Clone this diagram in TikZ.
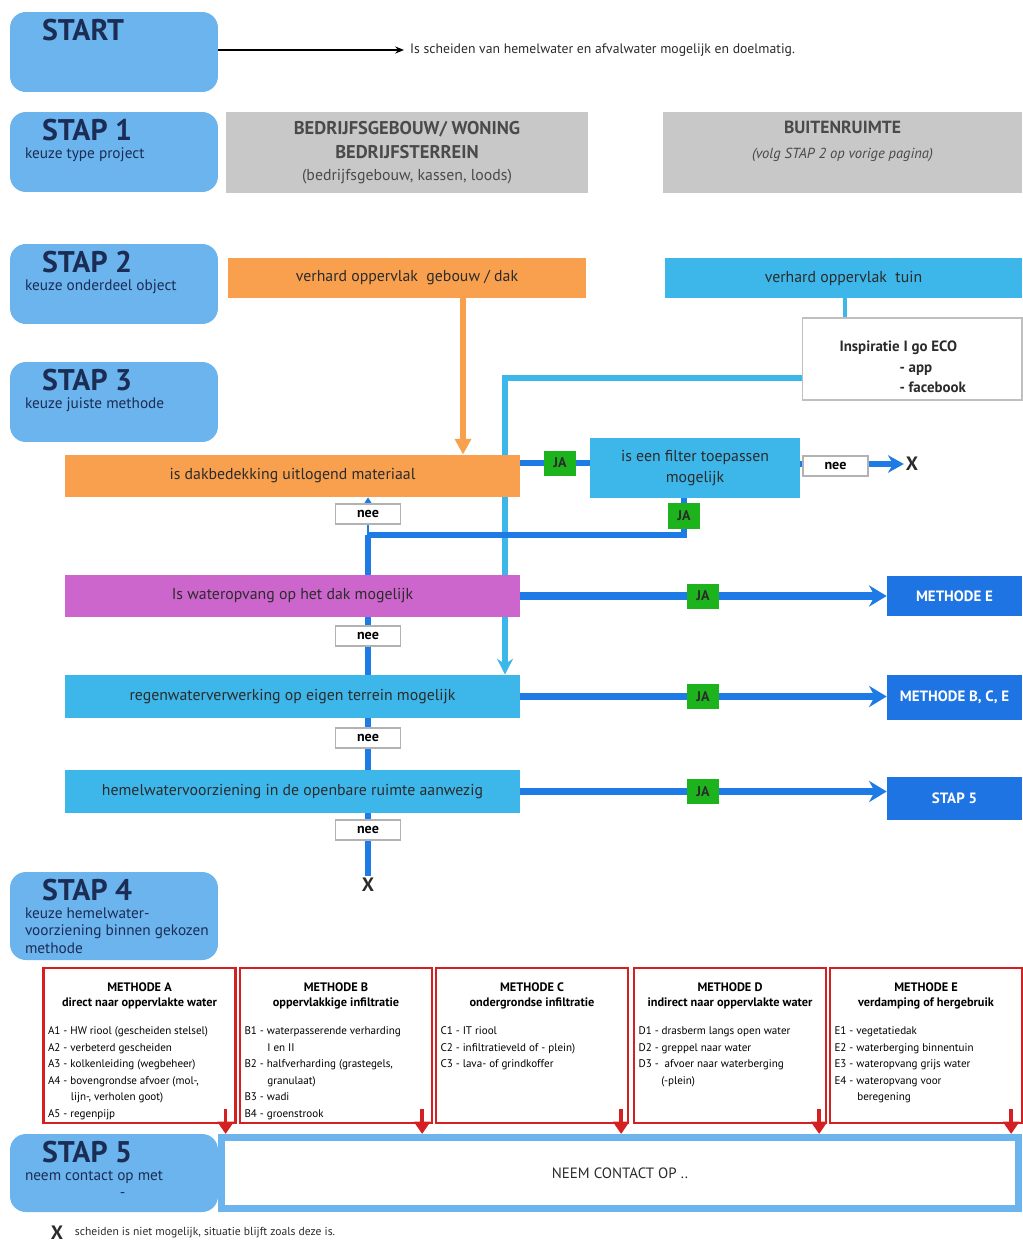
\documentclass[tikz,border=0pt]{standalone}
\usepackage{xcolor}
\usepackage{fontspec}
\setmainfont{PT Sans}
\usepackage{tikz}
\usetikzlibrary{arrows.meta,positioning}
\pgfdeclarelayer{bg}
\pgfsetlayers{bg,main}

\definecolor{stapblue}{HTML}{6CB4EE}
\definecolor{stapnavy}{HTML}{1B2D55}
\definecolor{roofor}{HTML}{F9A04E}
\definecolor{pipecyan}{HTML}{3DB7EA}
\definecolor{pipeblue}{HTML}{1E7BE6}
\definecolor{darkbox}{HTML}{1F74E3}
\definecolor{okgreen}{HTML}{1DB31D}
\definecolor{roofmag}{HTML}{CC66CC}
\definecolor{greybox}{HTML}{C8C8C8}
\definecolor{greytxt}{HTML}{4A4A4A}
\definecolor{methred}{HTML}{D42020}
\definecolor{txtdark}{HTML}{2B2B2B}

\newcommand{\stapttl}{\fontsize{17}{17}\selectfont\bfseries}
\newcommand{\stapsub}{\fontsize{8.7}{10}\selectfont\mdseries}
\newcommand{\methhead}{\fontsize{7}{8.5}\selectfont\bfseries}
\newcommand{\methtxt}{\fontsize{6.3}{9.4}\selectfont\mdseries\raggedright}
\newcommand{\mitem}[1]{\par\hangindent=13pt\hangafter=1 #1}

\begin{document}
\begin{tikzpicture}[x=0.02cm, y=-0.02cm,
  stapbox/.style={rounded corners=9pt, fill=stapblue, text=stapnavy, minimum width=4.16cm, inner sep=0pt},
  greyhead/.style={fill=greybox, text=greytxt, inner sep=0pt},
  qbox/.style={inner sep=0pt, text=txtdark, align=center, font=\fontsize{9}{11.5}\selectfont},
  jabox/.style={fill=okgreen, text=txtdark, minimum width=0.64cm, minimum height=0.5cm, inner sep=0pt, font=\fontsize{8}{9}\selectfont\bfseries},
  neebox/.style={fill=white, draw=gray!60, line width=0.6pt, minimum width=1.3cm, minimum height=0.4cm, inner sep=0pt, font=\fontsize{8}{9}\selectfont\bfseries},
  goalbox/.style={fill=darkbox, text=white, minimum width=2.7cm, inner sep=0pt, font=\fontsize{8.5}{10}\selectfont\bfseries},
  methbox/.style={draw=methred, line width=1.3pt, fill=white, minimum width=3.84cm, minimum height=3.1cm, inner sep=0pt},
  xmark/.style={text=txtdark, inner sep=1pt, font=\fontsize{11}{12}\selectfont\bfseries},
  pipe/.style={pipeblue, line width=3.4pt},
  redarrow/.style={methred, line width=2pt, -{Triangle[length=7pt,width=9pt]}}]

\useasboundingbox (0,0) rectangle (1022,1243);

% stappen links
\node[stapbox, minimum height=1.6cm] (start) at (114,52) {\parbox[c][1.3cm][t]{3.56cm}{\stapttl\hspace*{0.34cm}START}};
\node[stapbox, minimum height=1.6cm] (s1) at (114,152) {\parbox[c][1.3cm][t]{3.56cm}{\stapttl\hspace*{0.34cm}STAP 1\par\stapsub keuze type project}};
\node[stapbox, minimum height=1.6cm] (s2) at (114,284) {\parbox[c][1.3cm][t]{3.56cm}{\stapttl\hspace*{0.34cm}STAP 2\par\stapsub keuze onderdeel object}};
\node[stapbox, minimum height=1.6cm] (s3) at (114,402) {\parbox[c][1.3cm][t]{3.56cm}{\stapttl\hspace*{0.34cm}STAP 3\par\stapsub keuze juiste methode}};
\node[stapbox, minimum height=1.76cm] (s4) at (114,916) {\parbox[c][1.46cm][t]{3.56cm}{\raggedright\stapttl\hspace*{0.34cm}STAP 4\par\stapsub \mbox{keuze hemelwater-}\\ \mbox{voorziening binnen gekozen}\\ \mbox{methode}}};

\node[anchor=west, text=txtdark, font=\fontsize{7.8}{9}\selectfont] (q0) at (404,50) {Is scheiden van hemelwater en afvalwater mogelijk en doelmatig.};

% stap 1
\node[greyhead, minimum width=7.24cm, minimum height=1.62cm] (bedrijf) at (407,152.5) {\parbox[c][1.25cm][t]{7cm}{\centering\fontsize{10.5}{13.5}\selectfont\bfseries BEDRIJFSGEBOUW/ WONING\\ BEDRIJFSTERREIN\\ \mdseries\fontsize{9}{13}\selectfont (bedrijfsgebouw, kassen, loods)}};
\node[greyhead, minimum width=7.18cm, minimum height=1.62cm] (buiten) at (842.5,152.5) {\parbox[c][1.25cm][t]{7cm}{\centering\fontsize{10}{14}\selectfont\bfseries BUITENRUIMTE\\ \mdseries\itshape\fontsize{8.3}{14}\selectfont (volg STAP 2 op vorige pagina)}};

% stap 2 en 3
\node[qbox, fill=roofor, minimum width=7.16cm, minimum height=0.8cm] (roof) at (407,278) {verhard oppervlak~ gebouw / dak};
\node[qbox, fill=pipecyan, minimum width=7.14cm, minimum height=0.8cm] (tuin) at (843.5,278) {verhard oppervlak~ tuin};
\node[fill=white, draw=gray!50, line width=0.6pt, minimum width=4.4cm, minimum height=1.64cm, inner sep=0pt, text=txtdark, font=\fontsize{8.5}{11.5}\selectfont\bfseries] (insp) at (912,359) {\parbox[c][1.6cm][c]{2.9cm}{\vspace*{9pt}Inspiratie I go ECO\\ \hspace*{1.2cm}- app\\ \hspace*{1.2cm}- facebook}};

\node[qbox, fill=roofor, minimum width=9.1cm, minimum height=0.84cm] (dak) at (292.5,476) {is dakbedekking uitlogend materiaal};
\node[qbox, fill=pipecyan, minimum width=4.2cm, minimum height=1.2cm] (filter) at (695,468) {is een filter toepassen\\ mogelijk};
\node[qbox, fill=roofmag, minimum width=9.1cm, minimum height=0.84cm] (mag) at (292.5,596) {Is wateropvang op het dak mogelijk};
\node[qbox, fill=pipecyan, minimum width=9.1cm, minimum height=0.86cm] (regen) at (292.5,696.5) {regenwaterverwerking op eigen terrein mogelijk};
\node[qbox, fill=pipecyan, minimum width=9.1cm, minimum height=0.86cm] (hemel) at (292.5,791.5) {hemelwatervoorziening in de openbare ruimte aanwezig};

\node[goalbox, minimum height=0.8cm] (mE) at (954.5,596) {METHODE E};
\node[goalbox, minimum height=0.9cm] (mBCE) at (954.5,697.5) {METHODE B, C, E};
\node[goalbox, minimum height=0.86cm] (mS5) at (954.5,798.5) {STAP 5};

\node[xmark] (x1) at (912,464) {X};
\node[xmark] (x2) at (368,885) {X};

\coordinate (rdrop) at (463,0);
\coordinate (tdrop) at (845,0);
\coordinate (ibend) at (505,378);
\coordinate (jn) at (368,535);

\node[jabox] (ja1) at (560,463) {JA};
\node[jabox, minimum height=0.52cm] (ja2) at (684,516) {JA};
\node[jabox] (ja3) at (703,596) {JA};
\node[jabox] (ja4) at (703,696.5) {JA};
\node[jabox] (ja5) at (703,791.5) {JA};

\node[neebox] (nee1) at (835.5,466) {nee};
\node[neebox] (neeA) at (368,514) {nee};
\node[neebox] (neeB) at (368,636) {nee};
\node[neebox] (neeC) at (368,738) {nee};
\node[neebox] (neeD) at (368,830) {nee};

\begin{pgfonlayer}{bg}
  \fill[white] (0,0) rectangle (1022,1243);
  \draw[line width=0.8pt, -{Stealth[length=5pt,width=4pt]}] (start.east |- q0.west) -- (q0.west);
  \draw[roofor, line width=3.4pt, -{Triangle[length=9pt,width=9pt]}] (roof.south -| rdrop) -- (dak.north -| rdrop);
  \draw[pipecyan, line width=2.5pt] (tuin.south -| tdrop) -- (insp.north -| tdrop);
  \draw[pipecyan, line width=3.2pt, -{Stealth[length=9pt,width=9pt]}] (insp.west |- ibend) -| (regen.north -| ibend);
  \draw[pipe] (dak.east |- ja1) -- (filter.west |- ja1);
  \draw[pipe, -{Stealth[length=9pt,width=10pt]}] (filter.east |- x1) -- (x1.west);
  \draw[pipe] (filter.south -| ja2) |- (jn);
  \draw[pipeblue, line width=1.2pt, -{Stealth[length=4pt,width=5pt]}] (jn) -- (jn |- dak.south);
  \draw[pipe] (jn) -- (jn |- mag.north);
  \draw[pipe] (mag.south -| neeB) -- (regen.north -| neeB);
  \draw[pipe] (regen.south -| neeC) -- (hemel.north -| neeC);
  \draw[pipe] (hemel.south -| neeD) -- (x2.north);
  \draw[pipe, line width=4pt, -{Stealth[length=10pt,width=12pt]}] (mag.east) -- (mE.west);
  \draw[pipe, line width=4pt, -{Stealth[length=10pt,width=12pt]}] (regen.east) -- (regen.east -| mBCE.west);
  \draw[pipe, line width=4pt, -{Stealth[length=10pt,width=12pt]}] (hemel.east) -- (hemel.east -| mS5.west);
\end{pgfonlayer}

% stap 4 methodes
\node[methbox] (mA) at (139.5,1045.5) {\parbox[c][2.5cm][t]{3.66cm}{\centering\methhead METHODE A\\ direct naar oppervlakte water\par\vspace{6.5pt}\methtxt
  \mitem{A1 - HW riool (gescheiden stelsel)}
  \mitem{A2 - verbeterd gescheiden}
  \mitem{A3 - kolkenleiding (wegbeheer)}
  \mitem{A4 - bovengrondse afvoer (mol-,\newline lijn-, verholen goot)}
  \mitem{A5 - regenpijp}}};
\node[methbox] (mB) at (336,1045.5) {\parbox[c][2.5cm][t]{3.66cm}{\centering\methhead METHODE B\\ oppervlakkige infiltratie\par\vspace{6.5pt}\methtxt
  \mitem{B1 - waterpasserende verharding\newline I en II}
  \mitem{B2 - halfverharding (grastegels,\newline granulaat)}
  \mitem{B3 - wadi}
  \mitem{B4 - groenstrook}}};
\node[methbox] (mC) at (532,1045.5) {\parbox[c][2.5cm][t]{3.66cm}{\centering\methhead METHODE C\\ ondergrondse infiltratie\par\vspace{6.5pt}\methtxt
  \mitem{C1 - IT riool}
  \mitem{C2 - infiltratieveld of - plein)}
  \mitem{C3 - lava- of grindkoffer}}};
\node[methbox] (mD) at (730,1045.5) {\parbox[c][2.5cm][t]{3.66cm}{\centering\methhead METHODE D\\ indirect naar oppervlakte water\par\vspace{6.5pt}\methtxt
  \mitem{D1 - drasberm langs open water}
  \mitem{D2 - greppel naar water}
  \mitem{D3 - ~afvoer naar waterberging\newline (-plein)}}};
\node[methbox] (mE2) at (926,1045.5) {\parbox[c][2.5cm][t]{3.66cm}{\centering\methhead METHODE E\\ verdamping of hergebruik\par\vspace{6.5pt}\methtxt
  \mitem{E1 - vegetatiedak}
  \mitem{E2 - waterberging binnentuin}
  \mitem{E3 - wateropvang grijs water}
  \mitem{E4 - wateropvang voor\newline beregening}}};

% stap 5
\node[draw=stapblue, line width=4pt, fill=white, minimum width=15.94cm, minimum height=1.42cm, inner sep=0pt, text=txtdark, font=\fontsize{8.5}{10}\selectfont] (contact) at (620,1173) {NEEM CONTACT OP ..};
\node[stapbox, minimum height=1.56cm] (s5) at (114,1173) {\parbox[c][1.26cm][t]{3.56cm}{\stapttl\hspace*{0.34cm}STAP 5\par\stapsub neem contact op met\par\hspace*{1.9cm}-}};

\coordinate (rA) at ([xshift=-0.22cm]mA.south east);
\coordinate (rB) at ([xshift=-0.22cm]mB.south east);
\coordinate (rC) at ([xshift=-0.16cm]mC.south east);
\coordinate (rD) at ([xshift=-0.16cm]mD.south east);
\coordinate (rE) at ([xshift=-0.24cm]mE2.south east);
\draw[redarrow] ([yshift=0.3cm]rA) -- (rA |- contact.north);
\draw[redarrow] ([yshift=0.3cm]rB) -- (rB |- contact.north);
\draw[redarrow] ([yshift=0.3cm]rC) -- (rC |- contact.north);
\draw[redarrow] ([yshift=0.3cm]rD) -- (rD |- contact.north);
\draw[redarrow] ([yshift=0.3cm]rE) -- (rE |- contact.north);

\node[xmark] (xnote) at (57,1233) {X};
\node[right=2pt of xnote, text=txtdark, font=\fontsize{6.6}{8}\selectfont] (notetxt) {scheiden is niet mogelijk, situatie blijft zoals deze is.};

\end{tikzpicture}
\end{document}
